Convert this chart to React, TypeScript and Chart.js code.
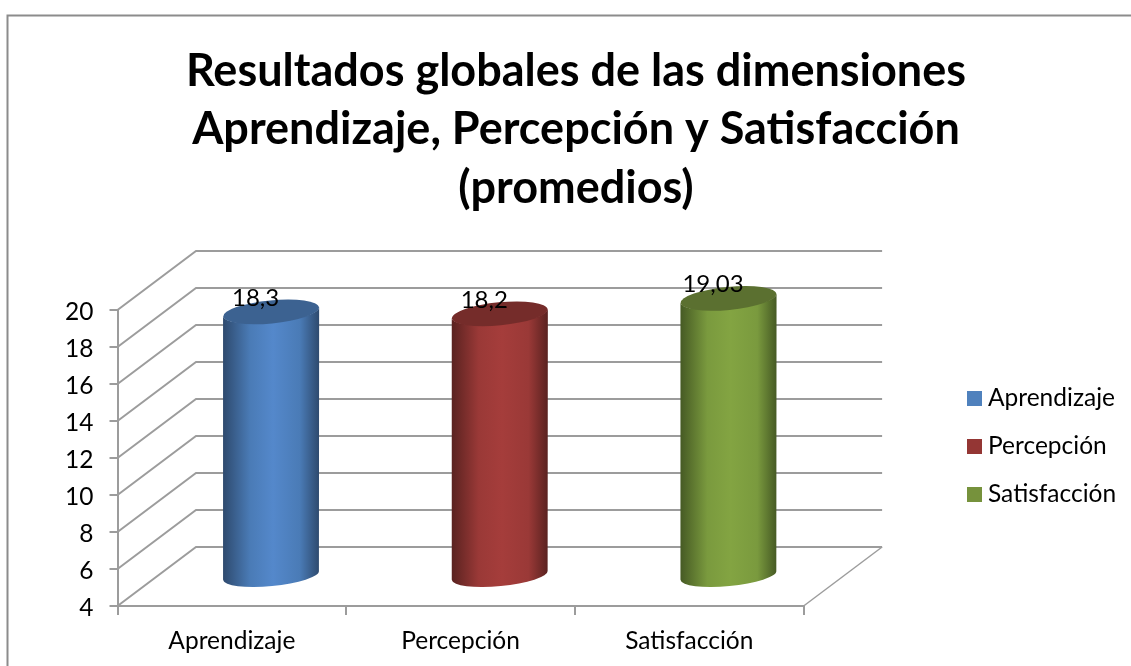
import React, { useEffect, useRef } from "react";
import { Chart, registerables } from "chart.js";

Chart.register(...registerables);

const titleLines = [
  "Resultados globales de las dimensiones",
  "Aprendizaje, Percepción y Satisfacción",
  "(promedios)",
];
const categories = ["Aprendizaje", "Percepción", "Satisfacción"];
const aprendizaje = [18.3, null, null];
const percepcion = [null, 18.2, null];
const satisfaccion = [null, null, 19.03];
const axisMin = 4;
const axisMax = 20;
const axisStep = 2;
const legendColors = ["#4F81BD", "#943634", "#76923C"];
const topColors = ["#3C6291", "#752C2A", "#5B7030"];
const edgeColors = ["#2E4A6E", "#5A2220", "#465A24"];
const midColors = ["#4A7BB6", "#9A3937", "#7A9A3E"];
const lightColors = ["#5488CB", "#A53D3B", "#83A442"];

const FONT = "Lato, sans-serif";
const DEPTH_X = 78.5;
const DEPTH_Y = 59;
const GRID = "#9c9c9c";
const ELLIPSE_RY = 10.5;
const ELLIPSE_ROT = (-5.5 * Math.PI) / 180;

function squareStyle(color: string) {
  const c = document.createElement("canvas");
  c.width = 15;
  c.height = 15;
  const g = c.getContext("2d")!;
  g.fillStyle = color;
  g.fillRect(0, 0, 15, 15);
  return c;
}

const scene3d = {
  id: "scene3d",
  beforeDraw(chart: any) {
    const { ctx, width, height } = chart;
    ctx.save();
    ctx.strokeStyle = "#8c8c8c";
    ctx.lineWidth = 2;
    ctx.beginPath();
    ctx.moveTo(width, 15.5);
    ctx.lineTo(7.5, 15.5);
    ctx.lineTo(7.5, height);
    ctx.stroke();
    ctx.restore();
  },
  afterLayout(chart: any) {
    const l = chart.legend;
    const shiftX = 973.25 - (l.left + l.options.labels.padding);
    l.left += shiftX;
    l.right += shiftX;
    l.top = 349;
    l.bottom = 543;
    const t = chart.titleBlock;
    t.left = 21;
    t.right = 1131;
  },
  beforeDatasetsDraw(chart: any) {
    const { ctx } = chart;
    const sx = chart.scales.x;
    const sy = chart.scales.y;
    ctx.save();
    ctx.strokeStyle = GRID;
    ctx.lineWidth = 2;
    ctx.lineJoin = "miter";
    sy.ticks.forEach((t: any) => {
      const y = sy.getPixelForValue(t.value);
      ctx.beginPath();
      ctx.moveTo(sx.left, y);
      ctx.lineTo(sx.left + DEPTH_X, y - DEPTH_Y);
      ctx.lineTo(sx.right + DEPTH_X, y - DEPTH_Y);
      ctx.stroke();
    });
    ctx.lineWidth = 1.5;
    ctx.beginPath();
    ctx.moveTo(sx.right, sy.bottom);
    ctx.lineTo(sx.right + DEPTH_X, sy.bottom - DEPTH_Y);
    ctx.stroke();

    chart.data.datasets.forEach((ds: any, i: number) => {
      chart.getDatasetMeta(i).data.forEach((el: any, j: number) => {
        const v = ds.data[j];
        if (v == null) return;
        const cx = el.x + DEPTH_X / 2;
        const ty = el.y - DEPTH_Y / 2;
        const by = el.base - DEPTH_Y / 2;
        const rx = el.width / 2;
        const tilt = rx * Math.sin(-ELLIPSE_ROT) * Math.cos(ELLIPSE_ROT) * 0.9;
        const grad = ctx.createLinearGradient(cx - rx, 0, cx + rx, 0);
        grad.addColorStop(0, edgeColors[i]);
        grad.addColorStop(0.28, midColors[i]);
        grad.addColorStop(0.52, lightColors[i]);
        grad.addColorStop(0.8, midColors[i]);
        grad.addColorStop(1, edgeColors[i]);
        ctx.beginPath();
        ctx.moveTo(cx - rx, ty + tilt);
        ctx.lineTo(cx - rx, by + tilt);
        ctx.ellipse(cx, by, rx, ELLIPSE_RY, ELLIPSE_ROT, Math.PI, 0, true);
        ctx.lineTo(cx + rx, ty - tilt);
        ctx.ellipse(cx, ty, rx, ELLIPSE_RY, ELLIPSE_ROT, 0, Math.PI, false);
        ctx.closePath();
        ctx.fillStyle = grad;
        ctx.fill();
        ctx.beginPath();
        ctx.ellipse(cx, ty, rx, ELLIPSE_RY + 1, ELLIPSE_ROT, 0, Math.PI * 2);
        ctx.fillStyle = topColors[i];
        ctx.fill();
        ctx.fillStyle = "#000";
        ctx.font = `24px ${FONT}`;
        ctx.textAlign = "center";
        ctx.textBaseline = "middle";
        ctx.fillText(String(v).replace(".", ","), cx - 15.5, ty - 14);
      });
    });
    ctx.restore();
    return false;
  },
};

export default function App() {
  const ref = useRef<HTMLCanvasElement>(null);
  useEffect(() => {
    const seriesValues = [aprendizaje, percepcion, satisfaccion];
    const chart = new Chart(ref.current!, {
      type: "bar",
      data: {
        labels: categories,
        datasets: categories.map((name, i) => ({
          label: name,
          data: seriesValues[i],
          backgroundColor: legendColors[i],
          base: axisMin,
          grouped: false,
          barPercentage: 96 / 228.5,
          categoryPercentage: 1,
        })),
      },
      options: {
        responsive: false,
        animation: false,
        layout: { padding: { left: 0, right: 151, top: 0, bottom: 0 } },
        plugins: {
          tooltip: { enabled: false },
          title: {
            display: true,
            text: titleLines,
            color: "#000",
            font: { family: FONT, size: 45, weight: "bold", lineHeight: 58.5 / 45 },
            padding: { top: 42, bottom: 92.5 },
          },
          legend: {
            position: "right",
            labels: {
              color: "#000",
              font: { family: FONT, size: 24.5 },
              boxWidth: 2.5,
              boxHeight: 15,
              padding: 23.5,
              usePointStyle: true,
              generateLabels(c: any) {
                return Chart.defaults.plugins.legend.labels
                  .generateLabels(c)
                  .map((it: any, i: number) => ({ ...it, pointStyle: squareStyle(legendColors[i]) }));
              },
            },
          },
        },
        scales: {
          x: {
            offset: true,
            afterFit(s: any) {
              s.height = 60;
            },
            border: { color: GRID, width: 2 },
            grid: { offset: true, drawOnChartArea: false, drawTicks: true, tickLength: 9, color: GRID, lineWidth: 2 },
            ticks: { color: "#000", font: { family: FONT, size: 24.5 }, padding: 11, maxRotation: 0 },
          },
          y: {
            min: axisMin,
            max: axisMax,
            afterFit(s: any) {
              s.width = 117.5;
            },
            border: { color: GRID, width: 2 },
            grid: { drawOnChartArea: false, drawTicks: true, tickLength: 8, color: GRID, lineWidth: 2 },
            ticks: { stepSize: axisStep, color: "#000", font: { family: FONT, size: 24.5 }, padding: 16, labelOffset: 2.5 },
          },
        },
      },
      plugins: [scene3d],
    } as any);
    return () => chart.destroy();
  }, []);
  return (
    <div style={{ position: "fixed", left: 0, top: 0, width: 1131, height: 666, background: "#fff" }}>
      <canvas ref={ref} width={1131} height={666} style={{ display: "block" }} />
    </div>
  );
}
